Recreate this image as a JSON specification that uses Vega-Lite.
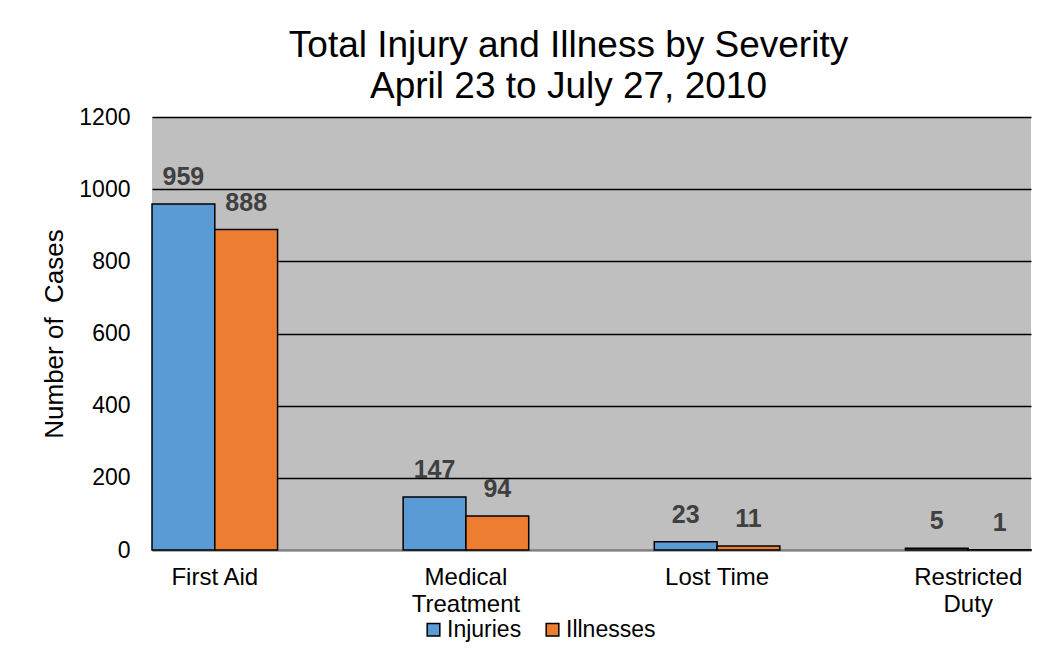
{
  "$schema": "https://vega.github.io/schema/vega-lite/v6.json",
  "width": 879,
  "height": 433,
  "autosize": {"type": "none"},
  "padding": {"left": 152, "top": 117, "right": 18, "bottom": 105},
  "background": "white",
  "title": {
    "text": ["Total Injury and Illness by Severity", "April 23 to July 27, 2010"],
    "fontSize": 37,
    "font": "Liberation Sans",
    "fontWeight": "normal",
    "color": "black",
    "lineHeight": 41,
    "anchor": "middle",
    "dx": -23,
    "offset": 0
  },
  "config": {
    "font": "Liberation Sans",
    "view": {"fill": "#bfbfbf", "stroke": null}
  },
  "data": {
    "values": [
      {"severity": "First Aid", "type": "Injuries", "cases": 959},
      {"severity": "First Aid", "type": "Illnesses", "cases": 888},
      {"severity": "Medical Treatment", "type": "Injuries", "cases": 147},
      {"severity": "Medical Treatment", "type": "Illnesses", "cases": 94},
      {"severity": "Lost Time", "type": "Injuries", "cases": 23},
      {"severity": "Lost Time", "type": "Illnesses", "cases": 11},
      {"severity": "Restricted Duty", "type": "Injuries", "cases": 5},
      {"severity": "Restricted Duty", "type": "Illnesses", "cases": 1}
    ]
  },
  "encoding": {
    "x": {
      "field": "severity",
      "type": "nominal",
      "sort": ["First Aid", "Medical Treatment", "Lost Time", "Restricted Duty"],
      "scale": {"paddingInner": 0.5, "paddingOuter": 0},
      "axis": {
        "title": null,
        "labelAngle": 0,
        "labelFontSize": 24,
        "labelColor": "black",
        "labelPadding": 15,
        "labelLineHeight": 27,
        "labelExpr": "indexof(datum.label, 'Medical') >= 0 || indexof(datum.label, 'Restricted') >= 0 ? split(datum.label, ' ') : datum.label",
        "ticks": false,
        "domain": true,
        "domainColor": "#808080",
        "domainWidth": 1.5,
        "grid": false
      }
    },
    "xOffset": {
      "field": "type",
      "type": "nominal",
      "sort": ["Injuries", "Illnesses"],
      "scale": {"paddingInner": 0, "paddingOuter": 0}
    },
    "y": {
      "field": "cases",
      "type": "quantitative",
      "scale": {"domain": [0, 1200], "nice": false},
      "axis": {
        "title": "Number of\u00a0 Cases",
        "titleFontSize": 26,
        "titleFontWeight": "normal",
        "titleColor": "black",
        "titlePadding": 11,
        "values": [0, 200, 400, 600, 800, 1000, 1200],
        "format": "d",
        "labelFontSize": 23,
        "labelColor": "black",
        "labelPadding": 22,
        "ticks": false,
        "domain": false,
        "grid": true,
        "gridColor": "black",
        "gridWidth": 1.3
      }
    }
  },
  "layer": [
    {
      "mark": {"type": "bar", "stroke": "black", "strokeWidth": 1.5},
      "encoding": {
        "color": {
          "field": "type",
          "type": "nominal",
          "sort": ["Injuries", "Illnesses"],
          "scale": {"domain": ["Injuries", "Illnesses"], "range": ["#5b9bd5", "#ed7d31"]},
          "legend": {
            "title": null,
            "orient": "none",
            "direction": "horizontal",
            "legendX": 270,
            "legendY": 501,
            "symbolType": "square",
            "symbolSize": 160,
            "symbolStrokeColor": "black",
            "symbolStrokeWidth": 1.5,
            "labelFontSize": 23,
            "labelColor": "black",
            "labelOffset": 2,
            "columnPadding": 19
          }
        }
      }
    },
    {
      "mark": {
        "type": "text",
        "fontSize": 25,
        "fontWeight": "bold",
        "color": "#404040",
        "baseline": "alphabetic",
        "dy": -19
      },
      "encoding": {
        "text": {"field": "cases", "type": "quantitative"}
      }
    }
  ]
}
